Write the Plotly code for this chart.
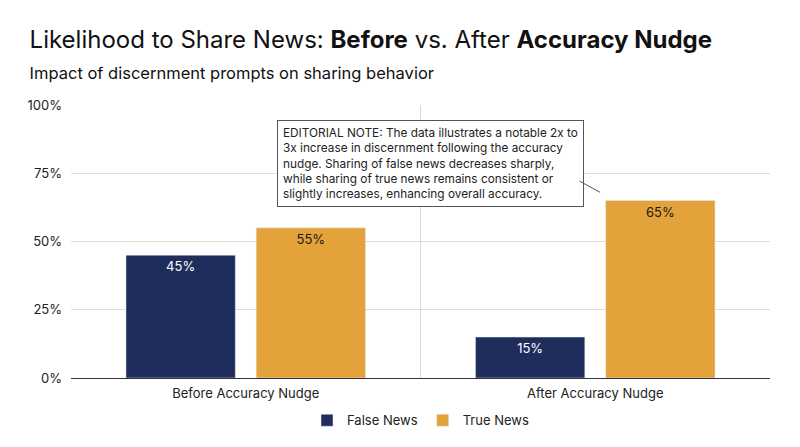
import plotly.graph_objects as go

categories = ["Before Accuracy Nudge", "After Accuracy Nudge"]
false_news = [0.45, 0.15]
true_news = [0.55, 0.65]
false_labels = ["45%", "15%"]
true_labels = ["55%", "65%"]
navy = "#1f2d5c"
gold = "#e4a23a"

fig = go.Figure()
fig.add_bar(x=categories, y=false_news, name="False News", marker_color=navy,
            text=false_labels, textposition="inside", insidetextanchor="end",
            textfont=dict(color="white", size=13, family="Inter"))
fig.add_bar(x=categories, y=true_news, name="True News", marker_color=gold,
            text=true_labels, textposition="inside", insidetextanchor="end",
            textfont=dict(color="#1a1a1a", size=13, family="Inter"))

fig.add_shape(type="line", xref="x", yref="paper", x0=0.5, x1=0.5, y0=0, y1=1,
              line=dict(color="#d9d9d9", width=1))

fig.add_annotation(
    text=("EDITORIAL NOTE: The data illustrates a notable 2x to<br>"
          "3x increase in discernment following the accuracy<br>"
          "nudge. Sharing of false news decreases sharply,<br>"
          "while sharing of true news remains consistent or<br>"
          "slightly increases, enhancing overall accuracy."),
    xref="paper", yref="paper", x=0.294, y=0.945, xanchor="left", yanchor="top",
    align="left", showarrow=False,
    font=dict(size=11.8, family="Inter", color="#222"),
    bgcolor="white", bordercolor="#555", borderwidth=1, borderpad=5)
fig.add_annotation(xref="paper", yref="paper", x=0.757, y=0.68, ax=-22, ay=-12,
                   showarrow=True, arrowhead=0, arrowwidth=1, arrowcolor="#555", text="")

fig.update_layout(
    width=800, height=447, barmode="group", bargap=0.255, bargroupgap=0.16,
    plot_bgcolor="white", paper_bgcolor="white",
    margin=dict(l=63, r=38, t=97, b=77, autoexpand=False),
    font=dict(family="Inter", color="#222"),
    title=dict(text="Likelihood to Share News: <b>Before</b> vs. After <b>Accuracy Nudge</b>"
               "<br><span style='font-size:16.5px'>Impact of discernment prompts on sharing behavior</span>",
               x=0.027, xanchor="left", y=0.91, yanchor="top", font=dict(size=24, color="#111")),
    yaxis=dict(range=[0, 1], tickvals=[0, 0.25, 0.5, 0.75, 1],
               ticktext=["0%", "25%", "50%", "75%", "100%"], gridcolor="#dcdcdc",
               tickfont=dict(size=13), ticks="", zeroline=False, ticklabelstandoff=8),
    xaxis=dict(showline=True, linecolor="#333", tickfont=dict(size=13), ticklabelstandoff=3),
    legend=dict(orientation="h", x=0.5, xanchor="center", y=-0.1, yanchor="top",
                font=dict(size=13), itemwidth=30),
)
fig.write_html("out.html")
